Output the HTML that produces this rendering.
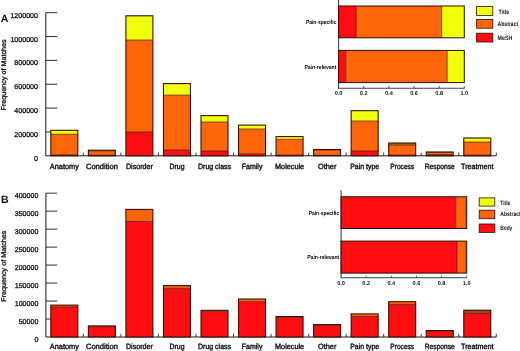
<!DOCTYPE html>
<html><head><meta charset="utf-8"><title>Figure</title>
<style>
html,body{margin:0;padding:0;background:#fff;}
body{width:520px;height:351px;overflow:hidden;font-family:"Liberation Sans",sans-serif;}
svg{display:block;}
</style></head><body>
<svg width="520" height="351" viewBox="0 0 520 351" text-rendering="geometricPrecision">
<rect width="520" height="351" fill="#ffffff"/>
<defs><filter id="ga" filterUnits="userSpaceOnUse" x="0" y="0" width="520" height="351"><feOffset dx="0" dy="0"/></filter></defs>
<g filter="url(#ga)">
<path d="M45.8 12.7 V155.8 H496.3" fill="none" stroke="#1a1a1a" stroke-width="1"/>
<line x1="45.8" x2="57.2" y1="12.70" y2="12.70" stroke="#1a1a1a" stroke-width="0.9"/>
<text x="38.0" y="17.70" text-anchor="end" font-size="7.1" font-family="Liberation Sans, sans-serif" fill="#111" stroke="#111" stroke-width="0.3">1200000</text>
<line x1="45.8" x2="57.2" y1="36.55" y2="36.55" stroke="#1a1a1a" stroke-width="0.9"/>
<text x="38.0" y="41.55" text-anchor="end" font-size="7.1" font-family="Liberation Sans, sans-serif" fill="#111" stroke="#111" stroke-width="0.3">1000000</text>
<line x1="45.8" x2="57.2" y1="60.40" y2="60.40" stroke="#1a1a1a" stroke-width="0.9"/>
<text x="38.0" y="65.40" text-anchor="end" font-size="7.1" font-family="Liberation Sans, sans-serif" fill="#111" stroke="#111" stroke-width="0.3">800000</text>
<line x1="45.8" x2="57.2" y1="84.25" y2="84.25" stroke="#1a1a1a" stroke-width="0.9"/>
<text x="38.0" y="89.25" text-anchor="end" font-size="7.1" font-family="Liberation Sans, sans-serif" fill="#111" stroke="#111" stroke-width="0.3">600000</text>
<line x1="45.8" x2="57.2" y1="108.10" y2="108.10" stroke="#1a1a1a" stroke-width="0.9"/>
<text x="38.0" y="113.10" text-anchor="end" font-size="7.1" font-family="Liberation Sans, sans-serif" fill="#111" stroke="#111" stroke-width="0.3">400000</text>
<line x1="45.8" x2="57.2" y1="131.95" y2="131.95" stroke="#1a1a1a" stroke-width="0.9"/>
<text x="38.0" y="136.95" text-anchor="end" font-size="7.1" font-family="Liberation Sans, sans-serif" fill="#111" stroke="#111" stroke-width="0.3">200000</text>
<text x="38.0" y="160.80" text-anchor="end" font-size="7.1" font-family="Liberation Sans, sans-serif" fill="#111" stroke="#111" stroke-width="0.3">0</text>
<line x1="83.34" x2="83.34" y1="152.60000000000002" y2="155.8" stroke="#223" stroke-width="0.9"/>
<line x1="120.88" x2="120.88" y1="152.60000000000002" y2="155.8" stroke="#223" stroke-width="0.9"/>
<line x1="158.43" x2="158.43" y1="152.60000000000002" y2="155.8" stroke="#223" stroke-width="0.9"/>
<line x1="195.97" x2="195.97" y1="152.60000000000002" y2="155.8" stroke="#223" stroke-width="0.9"/>
<line x1="233.51" x2="233.51" y1="152.60000000000002" y2="155.8" stroke="#223" stroke-width="0.9"/>
<line x1="271.05" x2="271.05" y1="152.60000000000002" y2="155.8" stroke="#223" stroke-width="0.9"/>
<line x1="308.59" x2="308.59" y1="152.60000000000002" y2="155.8" stroke="#223" stroke-width="0.9"/>
<line x1="346.13" x2="346.13" y1="152.60000000000002" y2="155.8" stroke="#223" stroke-width="0.9"/>
<line x1="383.68" x2="383.68" y1="152.60000000000002" y2="155.8" stroke="#223" stroke-width="0.9"/>
<line x1="421.22" x2="421.22" y1="152.60000000000002" y2="155.8" stroke="#223" stroke-width="0.9"/>
<line x1="458.76" x2="458.76" y1="152.60000000000002" y2="155.8" stroke="#223" stroke-width="0.9"/>
<line x1="496.30" x2="496.30" y1="152.60000000000002" y2="155.8" stroke="#223" stroke-width="0.9"/>
<rect x="50.82" y="130.30" width="27.0" height="3.90" fill="#f0ff0a"/>
<rect x="50.82" y="134.20" width="27.0" height="20.60" fill="#ff660a"/>
<rect x="50.82" y="154.80" width="27.0" height="1.00" fill="#ff0d10"/>
<rect x="50.82" y="130.30" width="27.0" height="25.50" fill="none" stroke="#2e0c00" stroke-width="1.05"/>
<line x1="50.82" x2="77.82" y1="134.20" y2="134.20" stroke="#2e0c00" stroke-width="0.6"/>
<line x1="50.82" x2="77.82" y1="154.80" y2="154.80" stroke="#2e0c00" stroke-width="0.6"/>
<rect x="88.36" y="150.20" width="27.0" height="0.70" fill="#f0ff0a"/>
<rect x="88.36" y="150.90" width="27.0" height="4.30" fill="#ff660a"/>
<rect x="88.36" y="155.20" width="27.0" height="0.60" fill="#ff0d10"/>
<rect x="88.36" y="150.20" width="27.0" height="5.60" fill="none" stroke="#2e0c00" stroke-width="1.05"/>
<line x1="88.36" x2="115.36" y1="150.90" y2="150.90" stroke="#2e0c00" stroke-width="0.6"/>
<line x1="88.36" x2="115.36" y1="155.20" y2="155.20" stroke="#2e0c00" stroke-width="0.6"/>
<rect x="125.90" y="15.80" width="27.0" height="24.20" fill="#f0ff0a"/>
<rect x="125.90" y="40.00" width="27.0" height="92.00" fill="#ff660a"/>
<rect x="125.90" y="132.00" width="27.0" height="23.80" fill="#ff0d10"/>
<rect x="125.90" y="15.80" width="27.0" height="140.00" fill="none" stroke="#2e0c00" stroke-width="1.05"/>
<line x1="125.90" x2="152.90" y1="40.00" y2="40.00" stroke="#2e0c00" stroke-width="0.6"/>
<line x1="125.90" x2="152.90" y1="132.00" y2="132.00" stroke="#2e0c00" stroke-width="0.6"/>
<rect x="163.45" y="83.60" width="27.0" height="11.50" fill="#f0ff0a"/>
<rect x="163.45" y="95.10" width="27.0" height="54.90" fill="#ff660a"/>
<rect x="163.45" y="150.00" width="27.0" height="5.80" fill="#ff0d10"/>
<rect x="163.45" y="83.60" width="27.0" height="72.20" fill="none" stroke="#2e0c00" stroke-width="1.05"/>
<line x1="163.45" x2="190.45" y1="95.10" y2="95.10" stroke="#2e0c00" stroke-width="0.6"/>
<line x1="163.45" x2="190.45" y1="150.00" y2="150.00" stroke="#2e0c00" stroke-width="0.6"/>
<rect x="200.99" y="115.60" width="27.0" height="6.40" fill="#f0ff0a"/>
<rect x="200.99" y="122.00" width="27.0" height="29.00" fill="#ff660a"/>
<rect x="200.99" y="151.00" width="27.0" height="4.80" fill="#ff0d10"/>
<rect x="200.99" y="115.60" width="27.0" height="40.20" fill="none" stroke="#2e0c00" stroke-width="1.05"/>
<line x1="200.99" x2="227.99" y1="122.00" y2="122.00" stroke="#2e0c00" stroke-width="0.6"/>
<line x1="200.99" x2="227.99" y1="151.00" y2="151.00" stroke="#2e0c00" stroke-width="0.6"/>
<rect x="238.53" y="125.10" width="27.0" height="3.90" fill="#f0ff0a"/>
<rect x="238.53" y="129.00" width="27.0" height="24.80" fill="#ff660a"/>
<rect x="238.53" y="153.80" width="27.0" height="2.00" fill="#ff0d10"/>
<rect x="238.53" y="125.10" width="27.0" height="30.70" fill="none" stroke="#2e0c00" stroke-width="1.05"/>
<line x1="238.53" x2="265.53" y1="129.00" y2="129.00" stroke="#2e0c00" stroke-width="0.6"/>
<line x1="238.53" x2="265.53" y1="153.80" y2="153.80" stroke="#2e0c00" stroke-width="0.6"/>
<rect x="276.07" y="136.60" width="27.0" height="2.70" fill="#f0ff0a"/>
<rect x="276.07" y="139.30" width="27.0" height="15.70" fill="#ff660a"/>
<rect x="276.07" y="155.00" width="27.0" height="0.80" fill="#ff0d10"/>
<rect x="276.07" y="136.60" width="27.0" height="19.20" fill="none" stroke="#2e0c00" stroke-width="1.05"/>
<line x1="276.07" x2="303.07" y1="139.30" y2="139.30" stroke="#2e0c00" stroke-width="0.6"/>
<line x1="276.07" x2="303.07" y1="155.00" y2="155.00" stroke="#2e0c00" stroke-width="0.6"/>
<rect x="313.61" y="149.50" width="27.0" height="0.60" fill="#f0ff0a"/>
<rect x="313.61" y="150.10" width="27.0" height="5.20" fill="#ff660a"/>
<rect x="313.61" y="155.30" width="27.0" height="0.50" fill="#ff0d10"/>
<rect x="313.61" y="149.50" width="27.0" height="6.30" fill="none" stroke="#2e0c00" stroke-width="1.05"/>
<line x1="313.61" x2="340.61" y1="150.10" y2="150.10" stroke="#2e0c00" stroke-width="0.6"/>
<line x1="313.61" x2="340.61" y1="155.30" y2="155.30" stroke="#2e0c00" stroke-width="0.6"/>
<rect x="351.15" y="110.70" width="27.0" height="10.30" fill="#f0ff0a"/>
<rect x="351.15" y="121.00" width="27.0" height="30.00" fill="#ff660a"/>
<rect x="351.15" y="151.00" width="27.0" height="4.80" fill="#ff0d10"/>
<rect x="351.15" y="110.70" width="27.0" height="45.10" fill="none" stroke="#2e0c00" stroke-width="1.05"/>
<line x1="351.15" x2="378.15" y1="121.00" y2="121.00" stroke="#2e0c00" stroke-width="0.6"/>
<line x1="351.15" x2="378.15" y1="151.00" y2="151.00" stroke="#2e0c00" stroke-width="0.6"/>
<rect x="388.70" y="143.00" width="27.0" height="2.20" fill="#b8651a"/>
<rect x="388.70" y="145.20" width="27.0" height="9.80" fill="#ff660a"/>
<rect x="388.70" y="155.00" width="27.0" height="0.80" fill="#ff0d10"/>
<rect x="388.70" y="143.00" width="27.0" height="12.80" fill="none" stroke="#2e0c00" stroke-width="1.05"/>
<line x1="388.70" x2="415.70" y1="145.20" y2="145.20" stroke="#2e0c00" stroke-width="0.6"/>
<line x1="388.70" x2="415.70" y1="155.00" y2="155.00" stroke="#2e0c00" stroke-width="0.6"/>
<rect x="426.24" y="152.00" width="27.0" height="0.40" fill="#f0ff0a"/>
<rect x="426.24" y="152.40" width="27.0" height="2.20" fill="#ff660a"/>
<rect x="426.24" y="154.60" width="27.0" height="1.20" fill="#ff0d10"/>
<rect x="426.24" y="152.00" width="27.0" height="3.80" fill="none" stroke="#2e0c00" stroke-width="1.05"/>
<line x1="426.24" x2="453.24" y1="152.40" y2="152.40" stroke="#2e0c00" stroke-width="0.6"/>
<line x1="426.24" x2="453.24" y1="154.60" y2="154.60" stroke="#2e0c00" stroke-width="0.6"/>
<rect x="463.78" y="138.00" width="27.0" height="4.00" fill="#f0ff0a"/>
<rect x="463.78" y="142.00" width="27.0" height="13.00" fill="#ff660a"/>
<rect x="463.78" y="155.00" width="27.0" height="0.80" fill="#ff0d10"/>
<rect x="463.78" y="138.00" width="27.0" height="17.80" fill="none" stroke="#2e0c00" stroke-width="1.05"/>
<line x1="463.78" x2="490.78" y1="142.00" y2="142.00" stroke="#2e0c00" stroke-width="0.6"/>
<line x1="463.78" x2="490.78" y1="155.00" y2="155.00" stroke="#2e0c00" stroke-width="0.6"/>
<text x="64.37" y="168.5" text-anchor="middle" font-size="7.7" textLength="29.0" lengthAdjust="spacingAndGlyphs" font-family="Liberation Sans, sans-serif" fill="#111" stroke="#111" stroke-width="0.4" stroke-linejoin="round">Anatomy</text>
<text x="101.91" y="168.5" text-anchor="middle" font-size="7.7" textLength="31.9" lengthAdjust="spacingAndGlyphs" font-family="Liberation Sans, sans-serif" fill="#111" stroke="#111" stroke-width="0.4" stroke-linejoin="round">Condition</text>
<text x="139.45" y="168.5" text-anchor="middle" font-size="7.7" textLength="27.0" lengthAdjust="spacingAndGlyphs" font-family="Liberation Sans, sans-serif" fill="#111" stroke="#111" stroke-width="0.4" stroke-linejoin="round">Disorder</text>
<text x="177.00" y="168.5" text-anchor="middle" font-size="7.7" textLength="15.0" lengthAdjust="spacingAndGlyphs" font-family="Liberation Sans, sans-serif" fill="#111" stroke="#111" stroke-width="0.4" stroke-linejoin="round">Drug</text>
<text x="214.54" y="168.5" text-anchor="middle" font-size="7.7" textLength="32.9" lengthAdjust="spacingAndGlyphs" font-family="Liberation Sans, sans-serif" fill="#111" stroke="#111" stroke-width="0.4" stroke-linejoin="round">Drug class</text>
<text x="252.08" y="168.5" text-anchor="middle" font-size="7.7" textLength="20.7" lengthAdjust="spacingAndGlyphs" font-family="Liberation Sans, sans-serif" fill="#111" stroke="#111" stroke-width="0.4" stroke-linejoin="round">Family</text>
<text x="289.62" y="168.5" text-anchor="middle" font-size="7.7" textLength="29.1" lengthAdjust="spacingAndGlyphs" font-family="Liberation Sans, sans-serif" fill="#111" stroke="#111" stroke-width="0.4" stroke-linejoin="round">Molecule</text>
<text x="327.16" y="168.5" text-anchor="middle" font-size="7.7" textLength="18.4" lengthAdjust="spacingAndGlyphs" font-family="Liberation Sans, sans-serif" fill="#111" stroke="#111" stroke-width="0.4" stroke-linejoin="round">Other</text>
<text x="364.70" y="168.5" text-anchor="middle" font-size="7.7" textLength="28.9" lengthAdjust="spacingAndGlyphs" font-family="Liberation Sans, sans-serif" fill="#111" stroke="#111" stroke-width="0.4" stroke-linejoin="round">Pain type</text>
<text x="402.25" y="168.5" text-anchor="middle" font-size="7.7" textLength="23.8" lengthAdjust="spacingAndGlyphs" font-family="Liberation Sans, sans-serif" fill="#111" stroke="#111" stroke-width="0.4" stroke-linejoin="round">Process</text>
<text x="439.79" y="168.5" text-anchor="middle" font-size="7.7" textLength="30.0" lengthAdjust="spacingAndGlyphs" font-family="Liberation Sans, sans-serif" fill="#111" stroke="#111" stroke-width="0.4" stroke-linejoin="round">Response</text>
<text x="477.33" y="168.5" text-anchor="middle" font-size="7.7" textLength="32.5" lengthAdjust="spacingAndGlyphs" font-family="Liberation Sans, sans-serif" fill="#111" stroke="#111" stroke-width="0.4" stroke-linejoin="round">Treatment</text>
<text transform="translate(5.9 74.9) rotate(-90)" text-anchor="middle" font-size="6.9" textLength="71" lengthAdjust="spacingAndGlyphs" font-family="Liberation Sans, sans-serif" fill="#111" stroke="#111" stroke-width="0.3">Frequency of Matches</text>
<text x="0.7" y="22.1" font-size="10.6" font-weight="bold" font-family="Liberation Sans, sans-serif" fill="#111">A</text>
<path d="M338.6 0 V88.2 H464.3" fill="none" stroke="#3a4550" stroke-width="1.1"/>
<rect x="338.60" y="6.0" width="17.60" height="31.80" fill="#ff0d10"/>
<rect x="356.20" y="6.0" width="85.48" height="31.80" fill="#ff660a"/>
<rect x="441.67" y="6.0" width="22.63" height="31.80" fill="#f0ff0a"/>
<rect x="338.60" y="6.0" width="125.70" height="31.80" fill="none" stroke="#2e0c00" stroke-width="1.0"/>
<line x1="356.20" x2="356.20" y1="6.0" y2="37.8" stroke="#2e0c00" stroke-width="0.6"/>
<line x1="441.67" x2="441.67" y1="6.0" y2="37.8" stroke="#2e0c00" stroke-width="0.6"/>
<rect x="338.60" y="50.4" width="7.16" height="32.20" fill="#ff0d10"/>
<rect x="345.76" y="50.4" width="101.44" height="32.20" fill="#ff660a"/>
<rect x="447.20" y="50.4" width="17.10" height="32.20" fill="#f0ff0a"/>
<rect x="338.60" y="50.4" width="125.70" height="32.20" fill="none" stroke="#2e0c00" stroke-width="1.0"/>
<line x1="345.76" x2="345.76" y1="50.4" y2="82.6" stroke="#2e0c00" stroke-width="0.6"/>
<line x1="447.20" x2="447.20" y1="50.4" y2="82.6" stroke="#2e0c00" stroke-width="0.6"/>
<text x="338.60" y="94.9" text-anchor="middle" font-size="5.6" font-family="Liberation Sans, sans-serif" font-weight="bold" fill="#111">0.0</text>
<line x1="363.74" x2="363.74" y1="86.0" y2="88.2" stroke="#334" stroke-width="0.8"/>
<text x="363.74" y="94.9" text-anchor="middle" font-size="5.6" font-family="Liberation Sans, sans-serif" font-weight="bold" fill="#111">0.2</text>
<line x1="388.88" x2="388.88" y1="86.0" y2="88.2" stroke="#334" stroke-width="0.8"/>
<text x="388.88" y="94.9" text-anchor="middle" font-size="5.6" font-family="Liberation Sans, sans-serif" font-weight="bold" fill="#111">0.4</text>
<line x1="414.02" x2="414.02" y1="86.0" y2="88.2" stroke="#334" stroke-width="0.8"/>
<text x="414.02" y="94.9" text-anchor="middle" font-size="5.6" font-family="Liberation Sans, sans-serif" font-weight="bold" fill="#111">0.6</text>
<line x1="439.16" x2="439.16" y1="86.0" y2="88.2" stroke="#334" stroke-width="0.8"/>
<text x="439.16" y="94.9" text-anchor="middle" font-size="5.6" font-family="Liberation Sans, sans-serif" font-weight="bold" fill="#111">0.8</text>
<line x1="464.30" x2="464.30" y1="86.0" y2="88.2" stroke="#334" stroke-width="0.8"/>
<text x="464.30" y="94.9" text-anchor="middle" font-size="5.6" font-family="Liberation Sans, sans-serif" font-weight="bold" fill="#111">1.0</text>
<text x="336.4" y="24.15" text-anchor="end" font-size="5.8" textLength="30.5" lengthAdjust="spacingAndGlyphs" font-family="Liberation Sans, sans-serif" font-weight="bold" fill="#000">Pain-specific</text>
<text x="336.4" y="68.75" text-anchor="end" font-size="5.8" textLength="32.0" lengthAdjust="spacingAndGlyphs" font-family="Liberation Sans, sans-serif" font-weight="bold" fill="#000">Pain-relevant</text>
<rect x="476.6" y="6.6" width="16.20" height="8.80" fill="#f0ff0a" stroke="#2e0c00" stroke-width="0.8"/>
<text x="498.5" y="14.4" font-size="6.3" textLength="10.6" lengthAdjust="spacingAndGlyphs" font-family="Liberation Sans, sans-serif" font-weight="bold" fill="#111">Title</text>
<rect x="476.6" y="19.4" width="16.20" height="8.80" fill="#ff660a" stroke="#2e0c00" stroke-width="0.8"/>
<text x="497.6" y="26.4" font-size="6.3" textLength="20.6" lengthAdjust="spacingAndGlyphs" font-family="Liberation Sans, sans-serif" font-weight="bold" fill="#111">Abstract</text>
<rect x="476.6" y="33.2" width="16.20" height="8.80" fill="#ff0d10" stroke="#2e0c00" stroke-width="0.8"/>
<text x="497.6" y="39.5" font-size="6.3" textLength="14.6" lengthAdjust="spacingAndGlyphs" font-family="Liberation Sans, sans-serif" font-weight="bold" fill="#111">MeSH</text>
<path d="M45.9 193.2 V337.0 H496.3" fill="none" stroke="#1a1a1a" stroke-width="1"/>
<line x1="45.9" x2="57.2" y1="193.20" y2="193.20" stroke="#1a1a1a" stroke-width="0.9"/>
<text x="38.4" y="198.20" text-anchor="end" font-size="7.1" font-family="Liberation Sans, sans-serif" fill="#111" stroke="#111" stroke-width="0.3">400000</text>
<line x1="45.9" x2="57.2" y1="211.17" y2="211.17" stroke="#1a1a1a" stroke-width="0.9"/>
<text x="38.4" y="216.17" text-anchor="end" font-size="7.1" font-family="Liberation Sans, sans-serif" fill="#111" stroke="#111" stroke-width="0.3">350000</text>
<line x1="45.9" x2="57.2" y1="229.15" y2="229.15" stroke="#1a1a1a" stroke-width="0.9"/>
<text x="38.4" y="234.15" text-anchor="end" font-size="7.1" font-family="Liberation Sans, sans-serif" fill="#111" stroke="#111" stroke-width="0.3">300000</text>
<line x1="45.9" x2="57.2" y1="247.12" y2="247.12" stroke="#1a1a1a" stroke-width="0.9"/>
<text x="38.4" y="252.12" text-anchor="end" font-size="7.1" font-family="Liberation Sans, sans-serif" fill="#111" stroke="#111" stroke-width="0.3">250000</text>
<line x1="45.9" x2="57.2" y1="265.10" y2="265.10" stroke="#1a1a1a" stroke-width="0.9"/>
<text x="38.4" y="270.10" text-anchor="end" font-size="7.1" font-family="Liberation Sans, sans-serif" fill="#111" stroke="#111" stroke-width="0.3">200000</text>
<line x1="45.9" x2="57.2" y1="283.07" y2="283.07" stroke="#1a1a1a" stroke-width="0.9"/>
<text x="38.4" y="288.07" text-anchor="end" font-size="7.1" font-family="Liberation Sans, sans-serif" fill="#111" stroke="#111" stroke-width="0.3">150000</text>
<line x1="45.9" x2="57.2" y1="301.05" y2="301.05" stroke="#1a1a1a" stroke-width="0.9"/>
<text x="38.4" y="306.05" text-anchor="end" font-size="7.1" font-family="Liberation Sans, sans-serif" fill="#111" stroke="#111" stroke-width="0.3">100000</text>
<line x1="45.9" x2="57.2" y1="319.02" y2="319.02" stroke="#1a1a1a" stroke-width="0.9"/>
<text x="38.4" y="324.02" text-anchor="end" font-size="7.1" font-family="Liberation Sans, sans-serif" fill="#111" stroke="#111" stroke-width="0.3">50000</text>
<text x="38.4" y="342.00" text-anchor="end" font-size="7.1" font-family="Liberation Sans, sans-serif" fill="#111" stroke="#111" stroke-width="0.3">0</text>
<line x1="83.34" x2="83.34" y1="333.8" y2="337.0" stroke="#223" stroke-width="0.9"/>
<line x1="120.88" x2="120.88" y1="333.8" y2="337.0" stroke="#223" stroke-width="0.9"/>
<line x1="158.43" x2="158.43" y1="333.8" y2="337.0" stroke="#223" stroke-width="0.9"/>
<line x1="195.97" x2="195.97" y1="333.8" y2="337.0" stroke="#223" stroke-width="0.9"/>
<line x1="233.51" x2="233.51" y1="333.8" y2="337.0" stroke="#223" stroke-width="0.9"/>
<line x1="271.05" x2="271.05" y1="333.8" y2="337.0" stroke="#223" stroke-width="0.9"/>
<line x1="308.59" x2="308.59" y1="333.8" y2="337.0" stroke="#223" stroke-width="0.9"/>
<line x1="346.13" x2="346.13" y1="333.8" y2="337.0" stroke="#223" stroke-width="0.9"/>
<line x1="383.68" x2="383.68" y1="333.8" y2="337.0" stroke="#223" stroke-width="0.9"/>
<line x1="421.22" x2="421.22" y1="333.8" y2="337.0" stroke="#223" stroke-width="0.9"/>
<line x1="458.76" x2="458.76" y1="333.8" y2="337.0" stroke="#223" stroke-width="0.9"/>
<line x1="496.30" x2="496.30" y1="333.8" y2="337.0" stroke="#223" stroke-width="0.9"/>
<rect x="50.82" y="305.10" width="27.0" height="1.70" fill="#ff660a"/>
<rect x="50.82" y="306.80" width="27.0" height="30.20" fill="#ff0d10"/>
<rect x="50.82" y="305.10" width="27.0" height="31.90" fill="none" stroke="#2e0c00" stroke-width="1.05"/>
<line x1="50.82" x2="77.82" y1="306.80" y2="306.80" stroke="#2e0c00" stroke-width="0.6"/>
<rect x="88.36" y="325.90" width="27.0" height="0.70" fill="#ff660a"/>
<rect x="88.36" y="326.60" width="27.0" height="10.40" fill="#ff0d10"/>
<rect x="88.36" y="325.90" width="27.0" height="11.10" fill="none" stroke="#2e0c00" stroke-width="1.05"/>
<line x1="88.36" x2="115.36" y1="326.60" y2="326.60" stroke="#2e0c00" stroke-width="0.6"/>
<rect x="125.90" y="209.40" width="27.0" height="12.00" fill="#ff660a"/>
<rect x="125.90" y="221.40" width="27.0" height="115.60" fill="#ff0d10"/>
<rect x="125.90" y="209.40" width="27.0" height="127.60" fill="none" stroke="#2e0c00" stroke-width="1.05"/>
<line x1="125.90" x2="152.90" y1="221.40" y2="221.40" stroke="#2e0c00" stroke-width="0.6"/>
<rect x="163.45" y="285.60" width="27.0" height="2.70" fill="#ff660a"/>
<rect x="163.45" y="288.30" width="27.0" height="48.70" fill="#ff0d10"/>
<rect x="163.45" y="285.60" width="27.0" height="51.40" fill="none" stroke="#2e0c00" stroke-width="1.05"/>
<line x1="163.45" x2="190.45" y1="288.30" y2="288.30" stroke="#2e0c00" stroke-width="0.6"/>
<rect x="200.99" y="310.30" width="27.0" height="1.30" fill="#ff660a"/>
<rect x="200.99" y="311.60" width="27.0" height="25.40" fill="#ff0d10"/>
<rect x="200.99" y="310.30" width="27.0" height="26.70" fill="none" stroke="#2e0c00" stroke-width="1.05"/>
<line x1="200.99" x2="227.99" y1="311.60" y2="311.60" stroke="#2e0c00" stroke-width="0.6"/>
<rect x="238.53" y="299.00" width="27.0" height="2.70" fill="#ff660a"/>
<rect x="238.53" y="301.70" width="27.0" height="35.30" fill="#ff0d10"/>
<rect x="238.53" y="299.00" width="27.0" height="38.00" fill="none" stroke="#2e0c00" stroke-width="1.05"/>
<line x1="238.53" x2="265.53" y1="301.70" y2="301.70" stroke="#2e0c00" stroke-width="0.6"/>
<rect x="276.07" y="316.50" width="27.0" height="0.90" fill="#ff660a"/>
<rect x="276.07" y="317.40" width="27.0" height="19.60" fill="#ff0d10"/>
<rect x="276.07" y="316.50" width="27.0" height="20.50" fill="none" stroke="#2e0c00" stroke-width="1.05"/>
<line x1="276.07" x2="303.07" y1="317.40" y2="317.40" stroke="#2e0c00" stroke-width="0.6"/>
<rect x="313.61" y="324.60" width="27.0" height="0.70" fill="#ff660a"/>
<rect x="313.61" y="325.30" width="27.0" height="11.70" fill="#ff0d10"/>
<rect x="313.61" y="324.60" width="27.0" height="12.40" fill="none" stroke="#2e0c00" stroke-width="1.05"/>
<line x1="313.61" x2="340.61" y1="325.30" y2="325.30" stroke="#2e0c00" stroke-width="0.6"/>
<rect x="351.15" y="313.90" width="27.0" height="2.60" fill="#ff660a"/>
<rect x="351.15" y="316.50" width="27.0" height="20.50" fill="#ff0d10"/>
<rect x="351.15" y="313.90" width="27.0" height="23.10" fill="none" stroke="#2e0c00" stroke-width="1.05"/>
<line x1="351.15" x2="378.15" y1="316.50" y2="316.50" stroke="#2e0c00" stroke-width="0.6"/>
<rect x="388.70" y="301.70" width="27.0" height="2.70" fill="#ff660a"/>
<rect x="388.70" y="304.40" width="27.0" height="32.60" fill="#ff0d10"/>
<rect x="388.70" y="301.70" width="27.0" height="35.30" fill="none" stroke="#2e0c00" stroke-width="1.05"/>
<line x1="388.70" x2="415.70" y1="304.40" y2="304.40" stroke="#2e0c00" stroke-width="0.6"/>
<rect x="426.24" y="330.50" width="27.0" height="0.60" fill="#ff660a"/>
<rect x="426.24" y="331.10" width="27.0" height="5.90" fill="#ff0d10"/>
<rect x="426.24" y="330.50" width="27.0" height="6.50" fill="none" stroke="#2e0c00" stroke-width="1.05"/>
<line x1="426.24" x2="453.24" y1="331.10" y2="331.10" stroke="#2e0c00" stroke-width="0.6"/>
<rect x="463.78" y="310.20" width="27.0" height="3.30" fill="#a8401a"/>
<rect x="463.78" y="313.50" width="27.0" height="23.50" fill="#ff0d10"/>
<rect x="463.78" y="310.20" width="27.0" height="26.80" fill="none" stroke="#2e0c00" stroke-width="1.05"/>
<line x1="463.78" x2="490.78" y1="313.50" y2="313.50" stroke="#2e0c00" stroke-width="0.6"/>
<text x="64.37" y="348.6" text-anchor="middle" font-size="7.7" textLength="29.0" lengthAdjust="spacingAndGlyphs" font-family="Liberation Sans, sans-serif" fill="#111" stroke="#111" stroke-width="0.4" stroke-linejoin="round">Anatomy</text>
<text x="101.91" y="348.6" text-anchor="middle" font-size="7.7" textLength="31.9" lengthAdjust="spacingAndGlyphs" font-family="Liberation Sans, sans-serif" fill="#111" stroke="#111" stroke-width="0.4" stroke-linejoin="round">Condition</text>
<text x="139.45" y="348.6" text-anchor="middle" font-size="7.7" textLength="27.0" lengthAdjust="spacingAndGlyphs" font-family="Liberation Sans, sans-serif" fill="#111" stroke="#111" stroke-width="0.4" stroke-linejoin="round">Disorder</text>
<text x="177.00" y="348.6" text-anchor="middle" font-size="7.7" textLength="15.0" lengthAdjust="spacingAndGlyphs" font-family="Liberation Sans, sans-serif" fill="#111" stroke="#111" stroke-width="0.4" stroke-linejoin="round">Drug</text>
<text x="214.54" y="348.6" text-anchor="middle" font-size="7.7" textLength="32.9" lengthAdjust="spacingAndGlyphs" font-family="Liberation Sans, sans-serif" fill="#111" stroke="#111" stroke-width="0.4" stroke-linejoin="round">Drug class</text>
<text x="252.08" y="348.6" text-anchor="middle" font-size="7.7" textLength="20.7" lengthAdjust="spacingAndGlyphs" font-family="Liberation Sans, sans-serif" fill="#111" stroke="#111" stroke-width="0.4" stroke-linejoin="round">Family</text>
<text x="289.62" y="348.6" text-anchor="middle" font-size="7.7" textLength="29.1" lengthAdjust="spacingAndGlyphs" font-family="Liberation Sans, sans-serif" fill="#111" stroke="#111" stroke-width="0.4" stroke-linejoin="round">Molecule</text>
<text x="327.16" y="348.6" text-anchor="middle" font-size="7.7" textLength="18.4" lengthAdjust="spacingAndGlyphs" font-family="Liberation Sans, sans-serif" fill="#111" stroke="#111" stroke-width="0.4" stroke-linejoin="round">Other</text>
<text x="364.70" y="348.6" text-anchor="middle" font-size="7.7" textLength="28.9" lengthAdjust="spacingAndGlyphs" font-family="Liberation Sans, sans-serif" fill="#111" stroke="#111" stroke-width="0.4" stroke-linejoin="round">Pain type</text>
<text x="402.25" y="348.6" text-anchor="middle" font-size="7.7" textLength="23.8" lengthAdjust="spacingAndGlyphs" font-family="Liberation Sans, sans-serif" fill="#111" stroke="#111" stroke-width="0.4" stroke-linejoin="round">Process</text>
<text x="439.79" y="348.6" text-anchor="middle" font-size="7.7" textLength="30.0" lengthAdjust="spacingAndGlyphs" font-family="Liberation Sans, sans-serif" fill="#111" stroke="#111" stroke-width="0.4" stroke-linejoin="round">Response</text>
<text x="477.33" y="348.6" text-anchor="middle" font-size="7.7" textLength="32.5" lengthAdjust="spacingAndGlyphs" font-family="Liberation Sans, sans-serif" fill="#111" stroke="#111" stroke-width="0.4" stroke-linejoin="round">Treatment</text>
<text transform="translate(5.8 266.2) rotate(-90)" text-anchor="middle" font-size="6.9" textLength="71" lengthAdjust="spacingAndGlyphs" font-family="Liberation Sans, sans-serif" fill="#111" stroke="#111" stroke-width="0.3">Frequency of Matches</text>
<text x="0.9" y="202.8" font-size="10.6" font-weight="bold" font-family="Liberation Sans, sans-serif" fill="#111">B</text>
<path d="M341.1 190.3 V277.8 H466.7" fill="none" stroke="#3a4550" stroke-width="1.1"/>
<rect x="341.10" y="196.8" width="114.67" height="31.70" fill="#ff0d10"/>
<rect x="455.77" y="196.8" width="10.05" height="31.70" fill="#ff660a"/>
<rect x="465.82" y="196.8" width="0.88" height="31.70" fill="#f0ff0a"/>
<rect x="341.10" y="196.8" width="125.60" height="31.70" fill="none" stroke="#2e0c00" stroke-width="1.0"/>
<line x1="455.77" x2="455.77" y1="196.8" y2="228.5" stroke="#2e0c00" stroke-width="0.6"/>
<line x1="465.82" x2="465.82" y1="196.8" y2="228.5" stroke="#2e0c00" stroke-width="0.6"/>
<rect x="341.10" y="241.1" width="115.93" height="32.00" fill="#ff0d10"/>
<rect x="457.03" y="241.1" width="8.92" height="32.00" fill="#ff660a"/>
<rect x="465.95" y="241.1" width="0.75" height="32.00" fill="#f0ff0a"/>
<rect x="341.10" y="241.1" width="125.60" height="32.00" fill="none" stroke="#2e0c00" stroke-width="1.0"/>
<line x1="457.03" x2="457.03" y1="241.1" y2="273.1" stroke="#2e0c00" stroke-width="0.6"/>
<line x1="465.95" x2="465.95" y1="241.1" y2="273.1" stroke="#2e0c00" stroke-width="0.6"/>
<text x="341.10" y="284.6" text-anchor="middle" font-size="5.6" font-family="Liberation Sans, sans-serif" font-weight="bold" fill="#111">0.0</text>
<line x1="366.22" x2="366.22" y1="275.6" y2="277.8" stroke="#334" stroke-width="0.8"/>
<text x="366.22" y="284.6" text-anchor="middle" font-size="5.6" font-family="Liberation Sans, sans-serif" font-weight="bold" fill="#111">0.2</text>
<line x1="391.34" x2="391.34" y1="275.6" y2="277.8" stroke="#334" stroke-width="0.8"/>
<text x="391.34" y="284.6" text-anchor="middle" font-size="5.6" font-family="Liberation Sans, sans-serif" font-weight="bold" fill="#111">0.4</text>
<line x1="416.46" x2="416.46" y1="275.6" y2="277.8" stroke="#334" stroke-width="0.8"/>
<text x="416.46" y="284.6" text-anchor="middle" font-size="5.6" font-family="Liberation Sans, sans-serif" font-weight="bold" fill="#111">0.6</text>
<line x1="441.58" x2="441.58" y1="275.6" y2="277.8" stroke="#334" stroke-width="0.8"/>
<text x="441.58" y="284.6" text-anchor="middle" font-size="5.6" font-family="Liberation Sans, sans-serif" font-weight="bold" fill="#111">0.8</text>
<line x1="466.70" x2="466.70" y1="275.6" y2="277.8" stroke="#334" stroke-width="0.8"/>
<text x="466.70" y="284.6" text-anchor="middle" font-size="5.6" font-family="Liberation Sans, sans-serif" font-weight="bold" fill="#111">1.0</text>
<text x="339.2" y="214.90" text-anchor="end" font-size="5.8" textLength="30.5" lengthAdjust="spacingAndGlyphs" font-family="Liberation Sans, sans-serif" font-weight="bold" fill="#000">Pain-specific</text>
<text x="339.2" y="259.35" text-anchor="end" font-size="5.8" textLength="32.0" lengthAdjust="spacingAndGlyphs" font-family="Liberation Sans, sans-serif" font-weight="bold" fill="#000">Pain-relevant</text>
<rect x="479.2" y="197.9" width="15.60" height="8.20" fill="#f0ff0a" stroke="#2e0c00" stroke-width="0.8"/>
<text x="500.3" y="204.6" font-size="6.3" textLength="10.0" lengthAdjust="spacingAndGlyphs" font-family="Liberation Sans, sans-serif" font-weight="bold" fill="#111">Title</text>
<rect x="479.2" y="210.2" width="15.60" height="8.50" fill="#ff660a" stroke="#2e0c00" stroke-width="0.8"/>
<text x="500.3" y="216.4" font-size="6.3" textLength="20.5" lengthAdjust="spacingAndGlyphs" font-family="Liberation Sans, sans-serif" font-weight="bold" fill="#111">Abstract</text>
<rect x="479.2" y="224.0" width="15.60" height="8.50" fill="#ff0d10" stroke="#2e0c00" stroke-width="0.8"/>
<text x="500.3" y="230.2" font-size="6.3" textLength="12.0" lengthAdjust="spacingAndGlyphs" font-family="Liberation Sans, sans-serif" font-weight="bold" fill="#111">Body</text>
</g>
</svg>
</body></html>
